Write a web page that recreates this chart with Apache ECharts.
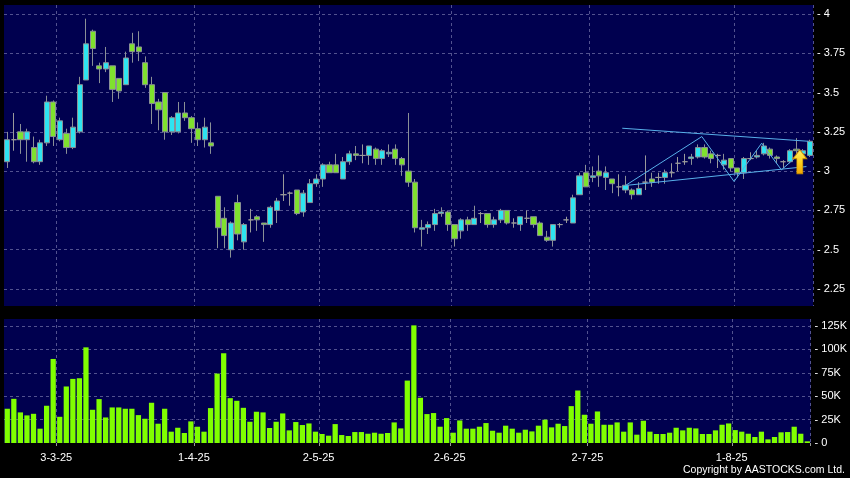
<!DOCTYPE html>
<html>
<head>
<meta charset="utf-8">
<script src="https://cdn.jsdelivr.net/npm/echarts@6/dist/echarts.min.js"></script>
<style>
html,body{margin:0;padding:0;background:#000;}
#c{width:850px;height:478px;}
</style>
</head>
<body>
<div id="c"></div>
<script>
// Trading days (d-m-yy)
const dates = [
'19-2-25','20-2-25','21-2-25','24-2-25','25-2-25','26-2-25','27-2-25','28-2-25',
'3-3-25','4-3-25','5-3-25','6-3-25','7-3-25','10-3-25','11-3-25','12-3-25','13-3-25','14-3-25','17-3-25','18-3-25','19-3-25','20-3-25','21-3-25','24-3-25','25-3-25','26-3-25','27-3-25','28-3-25','31-3-25',
'1-4-25','2-4-25','3-4-25','7-4-25','8-4-25','9-4-25','10-4-25','11-4-25','14-4-25','15-4-25','16-4-25','17-4-25','22-4-25','23-4-25','24-4-25','25-4-25','28-4-25','29-4-25','30-4-25',
'2-5-25','6-5-25','7-5-25','8-5-25','9-5-25','12-5-25','13-5-25','14-5-25','15-5-25','16-5-25','19-5-25','20-5-25','21-5-25','22-5-25','23-5-25','26-5-25','27-5-25','28-5-25','29-5-25','30-5-25',
'2-6-25','3-6-25','4-6-25','5-6-25','6-6-25','9-6-25','10-6-25','11-6-25','12-6-25','13-6-25','16-6-25','17-6-25','18-6-25','19-6-25','20-6-25','23-6-25','24-6-25','25-6-25','26-6-25','27-6-25','30-6-25',
'2-7-25','3-7-25','4-7-25','7-7-25','8-7-25','9-7-25','10-7-25','11-7-25','14-7-25','15-7-25','16-7-25','17-7-25','18-7-25','21-7-25','22-7-25','23-7-25','24-7-25','25-7-25','28-7-25','29-7-25','30-7-25','31-7-25',
'1-8-25','4-8-25','5-8-25','6-8-25','7-8-25','8-8-25','11-8-25','12-8-25','13-8-25','14-8-25','15-8-25','18-8-25'
];

const open = [
3.06,3.20,3.25,3.20,3.15,3.06,3.18,3.44,3.20,3.24,3.15,3.25,3.58,3.89,3.67,3.65,3.67,3.59,3.55,3.81,
3.79,3.69,3.55,3.44,3.50,3.25,3.25,3.37,3.34,3.27,3.20,3.18,2.84,2.70,2.50,2.80,2.55,2.69,2.71,2.67,
2.66,2.75,2.85,2.86,2.88,2.74,2.80,2.92,2.95,3.04,3.04,2.95,3.06,3.11,3.10,3.10,3.14,3.08,3.11,3.14,
3.08,3.00,2.93,2.63,2.64,2.66,2.73,2.74,2.66,2.62,2.69,2.66,2.73,2.73,2.66,2.69,2.75,2.67,2.66,2.70,
2.71,2.67,2.58,2.56,2.66,2.69,2.67,2.85,2.99,2.96,3.00,2.96,2.95,2.90,2.88,2.88,2.85,2.93,2.95,2.96,
2.96,2.99,3.05,3.06,3.08,3.09,3.15,3.11,3.10,3.04,3.08,3.02,2.99,3.08,3.09,3.11,3.14,3.09,3.06,3.06,
3.14,3.11,3.10
];
const close = [
3.20,3.20,3.20,3.25,3.06,3.18,3.44,3.22,3.32,3.15,3.28,3.55,3.81,3.78,3.65,3.69,3.52,3.51,3.72,3.76,
3.76,3.55,3.43,3.39,3.25,3.34,3.37,3.34,3.27,3.20,3.28,3.16,2.64,2.59,2.67,2.60,2.66,2.69,2.69,2.66,
2.77,2.81,2.85,2.86,2.73,2.86,2.92,2.95,3.04,2.99,2.99,3.06,3.11,3.10,3.10,3.16,3.08,3.13,3.12,3.08,
3.04,2.93,2.64,2.64,2.66,2.73,2.74,2.66,2.57,2.69,2.66,2.70,2.73,2.66,2.69,2.75,2.67,2.67,2.71,2.70,
2.66,2.59,2.56,2.66,2.66,2.69,2.83,2.97,2.90,2.97,2.97,2.99,2.92,2.90,2.91,2.85,2.89,2.93,2.93,2.96,
2.99,2.99,3.05,3.06,3.09,3.15,3.09,3.08,3.10,3.07,3.02,2.99,3.08,3.08,3.10,3.16,3.10,3.08,3.06,3.13,
3.13,3.13,3.19
];
const low = [
3.02,3.13,3.11,3.06,3.05,3.04,3.16,3.16,3.19,3.11,3.14,3.24,3.58,3.67,3.56,3.63,3.44,3.46,3.55,3.69,
3.70,3.53,3.30,3.26,3.20,3.23,3.24,3.32,3.18,3.16,3.15,3.11,2.51,2.51,2.45,2.56,2.50,2.61,2.62,2.55,
2.64,2.67,2.81,2.78,2.72,2.71,2.80,2.90,2.90,2.99,2.99,2.95,3.04,3.07,3.05,3.04,3.04,3.04,3.09,3.04,
2.97,2.90,2.61,2.52,2.60,2.62,2.71,2.62,2.52,2.57,2.62,2.66,2.67,2.64,2.64,2.67,2.66,2.64,2.62,2.67,
2.64,2.59,2.55,2.52,2.64,2.67,2.67,2.85,2.90,2.93,2.90,2.88,2.86,2.84,2.86,2.82,2.85,2.88,2.90,2.92,
2.92,2.96,3.00,3.04,3.04,3.08,3.08,3.05,3.02,3.01,3.00,2.96,2.95,3.07,3.08,3.10,3.08,3.05,3.02,3.05,
3.11,3.10,3.09
];
const high = [
3.25,3.37,3.30,3.27,3.22,3.20,3.48,3.45,3.34,3.27,3.34,3.60,3.97,3.90,3.69,3.79,3.67,3.59,3.76,3.88,
3.89,3.73,3.60,3.46,3.50,3.35,3.44,3.44,3.35,3.31,3.34,3.31,2.84,2.77,2.68,2.85,2.67,2.76,2.72,2.67,
2.78,2.83,2.98,2.87,2.88,2.88,2.95,2.98,3.05,3.06,3.11,3.09,3.13,3.16,3.17,3.16,3.15,3.14,3.17,3.17,
3.09,3.37,2.95,2.69,2.68,2.76,2.77,2.75,2.66,2.70,2.71,2.78,2.74,2.73,2.71,2.76,2.75,2.70,2.71,2.75,
2.71,2.68,2.62,2.66,2.67,2.71,2.85,2.99,3.04,3.03,3.10,3.03,2.95,2.98,2.97,2.89,2.93,3.10,2.99,2.99,
3.01,3.05,3.09,3.11,3.11,3.17,3.17,3.13,3.11,3.11,3.08,3.02,3.09,3.12,3.13,3.18,3.15,3.10,3.07,3.14,
3.21,3.14,3.20
];
// volume in thousands of shares
const volumeK = [
36.6,47.2,32.7,29.5,31.2,15.3,39.8,89.8,28.0,60.4,68.5,69.2,102.2,35.5,46.9,27.3,38.0,38.0,36.6,36.6,
29.8,25.9,43.0,20.6,36.6,12.1,16.3,10.7,23.1,17.4,12.1,37.3,74.2,95.9,47.9,45.1,37.6,22.7,33.4,32.7,
16.0,22.7,31.6,13.5,22.4,19.2,20.9,12.1,9.6,7.8,20.2,8.5,7.5,11.7,11.7,9.9,11.0,9.9,10.7,22.0,
15.6,66.7,125.7,48.3,30.9,32.0,17.4,26.6,11.0,24.1,15.3,15.3,17.4,21.3,13.1,11.0,18.5,15.3,11.0,14.2,
12.4,18.5,24.9,16.7,20.6,18.1,39.4,56.1,30.2,20.6,33.7,19.5,19.5,22.0,12.1,22.0,8.9,23.8,12.1,9.6,
9.6,11.0,16.3,13.5,16.3,15.6,9.6,9.6,13.5,19.5,20.9,13.8,12.1,9.9,6.4,12.1,3.9,6.4,11.4,11.7,
17.4,9.9,1.8
];
const priceTicks = [2.25,2.5,2.75,3,3.25,3.5,3.75,4];
const volumeTicksK = [0,25,50,75,100,125];

// Drawn annotations in data space: [candle index, price]
const trendUpper = [[93.5,3.273],[121.8,3.19]];
const trendLower = [[94,2.909],[121.5,3.029]];
const zigzag = [[94,2.909],[105.6,3.22],[110.5,2.934],[114.7,3.178],[117.7,3.008],[120.6,3.115]];
const arrowAt = [120.5,3.06];

const candles = dates.map((d,i)=>[open[i],close[i],low[i],high[i]]);
const volume = volumeK.map(v=>v*1000);

function isMonthStart(index){
  if(index===0) return false;
  const m = dates[index].split('-')[1];
  const pm = dates[index-1].split('-')[1];
  return m!==pm;
}
function near(v,arr){ return arr.some(t=>Math.abs(v-t)<1e-6); }

const gridColor = '#52528f';
const font = 'Liberation Sans';
const chart = echarts.init(document.getElementById('c'), null, {renderer:'canvas'});
chart.setOption({
  backgroundColor:'#000000',
  animation:false,
  textStyle:{fontFamily:font},
  grid:[
    {left:4,right:37,top:5,height:301,show:true,backgroundColor:'#00004f',borderWidth:0},
    {left:4,right:37,top:319,height:124,show:true,backgroundColor:'#00004f',borderWidth:0}
  ],
  xAxis:[
    {type:'category',gridIndex:0,data:dates,boundaryGap:true,
     axisLine:{show:false},axisTick:{show:false},axisLabel:{show:false},
     splitLine:{show:true,interval:(i)=>isMonthStart(i),lineStyle:{color:gridColor,type:[3,3],width:1}}},
    {type:'category',gridIndex:1,data:dates,boundaryGap:true,offset:3,
     axisLine:{show:false},
     axisTick:{show:true,alignWithLabel:false,interval:(i)=>isMonthStart(i),length:3,lineStyle:{color:'#9a9a9a'}},
     axisLabel:{show:true,interval:(i)=>isMonthStart(i),color:'#ffffff',fontSize:11,margin:6,fontFamily:font,padding:[0,7,0,0]},
     splitLine:{show:true,interval:(i)=>isMonthStart(i),lineStyle:{color:gridColor,type:[3,3],width:1}}},
    {type:'value',gridIndex:0,min:-0.5,max:dates.length-0.5,show:false,splitLine:{show:false}}
  ],
  yAxis:[
    {type:'value',gridIndex:0,position:'right',min:2.142,max:4.057,minInterval:0.25,maxInterval:0.25,scale:true,
     axisLine:{show:false},axisTick:{show:false},
     axisLabel:{color:'#ffffff',fontSize:11,margin:4,fontFamily:font,showMinLabel:false,showMaxLabel:false,
       formatter:(v)=> near(v,priceTicks) ? '- '+String(+v.toFixed(2)) : ''},
     splitLine:{show:true,showMinLine:false,showMaxLine:false,lineStyle:{color:gridColor,type:[3,3],width:1}}},
    {type:'value',gridIndex:1,position:'right',min:0,max:132500,minInterval:25000,maxInterval:25000,
     axisLine:{show:false},axisTick:{show:false},
     axisLabel:{color:'#ffffff',fontSize:11,margin:4,fontFamily:font,showMaxLabel:false,
       formatter:(v)=>{ const k=v/1000; if(!near(k,volumeTicksK)) return ''; return '- '+(k===0?'0':k+'K'); }},
     splitLine:{show:true,showMinLine:false,showMaxLine:false,lineStyle:{color:gridColor,type:[3,3],width:1}}}
  ],
  series:[
    {type:'candlestick',xAxisIndex:0,yAxisIndex:0,data:candles,barWidth:'86%',
     itemStyle:{color:'#2ee4f0',color0:'#7fe12e',borderColor:'#8a9096',borderColor0:'#8a9096',borderColorDoji:'#9a9a9a',borderWidth:1}},
    {type:'bar',xAxisIndex:1,yAxisIndex:1,data:volume,barWidth:'80%',
     itemStyle:{color:'#80ff00',borderWidth:0}},
    {type:'line',xAxisIndex:2,yAxisIndex:0,data:trendUpper,symbol:'none',silent:true,
     lineStyle:{color:'#58b0ea',width:1}},
    {type:'line',xAxisIndex:2,yAxisIndex:0,data:trendLower,symbol:'none',silent:true,
     lineStyle:{color:'#58b0ea',width:1}},
    {type:'line',xAxisIndex:2,yAxisIndex:0,data:zigzag,symbol:'none',silent:true,
     lineStyle:{color:'#58b0ea',width:1},
     markPoint:{silent:true,data:[{coord:arrowAt,symbol:'path://M7,0 L14,9 L10,9 L10,24 L4,24 L4,9 L0,9 Z',symbolSize:[14,24],
       itemStyle:{color:new echarts.graphic.LinearGradient(0,0,0,1,[{offset:0,color:'#fff06a'},{offset:0.5,color:'#ffd21e'},{offset:1,color:'#f0a400'}]),borderColor:'#c88a00',borderWidth:0.8},
       label:{show:false}}]}}
  ],
  graphic:[
    {type:'text',right:5,top:465,style:{text:'Copyright by AASTOCKS.com Ltd.',fill:'#ffffff',font:'10.5px "Liberation Sans"'}}
  ]
});
</script>
</body>
</html>
